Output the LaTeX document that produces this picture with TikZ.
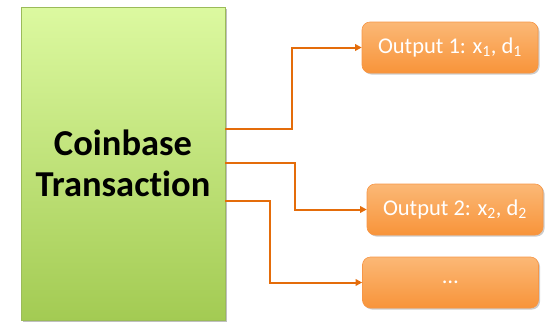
\documentclass[tikz,border=0pt]{standalone}
\usepackage{fontspec}
\setmainfont{Carlito}[Ligatures=NoCommon]
\usetikzlibrary{arrows.meta,shadows}
\definecolor{greentop}{HTML}{DCF9A0}
\definecolor{greenbot}{HTML}{A3CB53}
\definecolor{greenline}{HTML}{9BBB59}
\definecolor{orangetop}{HTML}{FBB876}
\definecolor{orangebot}{HTML}{F8943A}
\definecolor{orangeline}{HTML}{F79646}
\definecolor{wire}{HTML}{E46C0A}
\tikzset{
  txbox/.style={draw=greenline, line width=0.8pt, top color=greentop, bottom color=greenbot,
    minimum width=204pt, minimum height=313pt, inner sep=0pt,
    drop shadow={shadow xshift=2pt, shadow yshift=-2pt, fill=black, opacity=0.25},
    font=\bfseries\fontsize{36.5}{41}\selectfont, align=center},
  outbox/.style={draw=orangeline, line width=0.6pt, rounded corners=8pt,
    top color=orangetop, bottom color=orangebot,
    minimum width=176pt, minimum height=51pt, inner sep=0pt, text=white,
    drop shadow={shadow xshift=1.5pt, shadow yshift=-1.5pt, fill=black, opacity=0.2},
    font=\fontsize{22.5}{26}\selectfont},
  link/.style={draw=wire, line width=2pt, -{Triangle[length=6.5pt,width=6.5pt]}}
}
\begin{document}
\begin{tikzpicture}[x=1pt,y=-1pt]
  \useasboundingbox (0,0) rectangle (550,322);
  \node[txbox] (tx) at (123,163.5) {Coinbase\\Transaction};
  \node[outbox] (o1) at (450,47.5) {Output 1: x\textsubscript{1}, d\textsubscript{1}};
  \node[outbox] (o2) at (455,209.5) {Output 2: x\textsubscript{2}, d\textsubscript{2}};
  \node[outbox] (o3) at (450.5,282.5) {…};
  \coordinate (s1) at (225,129);
  \coordinate (s2) at (225,162.5);
  \coordinate (s3) at (225,201);
  \draw[link] (s1) -- (292,129) |- (o1.west);
  \draw[link] (s2) -- (295,162.5) |- (o2.west);
  \draw[link] (s3) -- (270,201) |- (o3.west);
\end{tikzpicture}
\end{document}
